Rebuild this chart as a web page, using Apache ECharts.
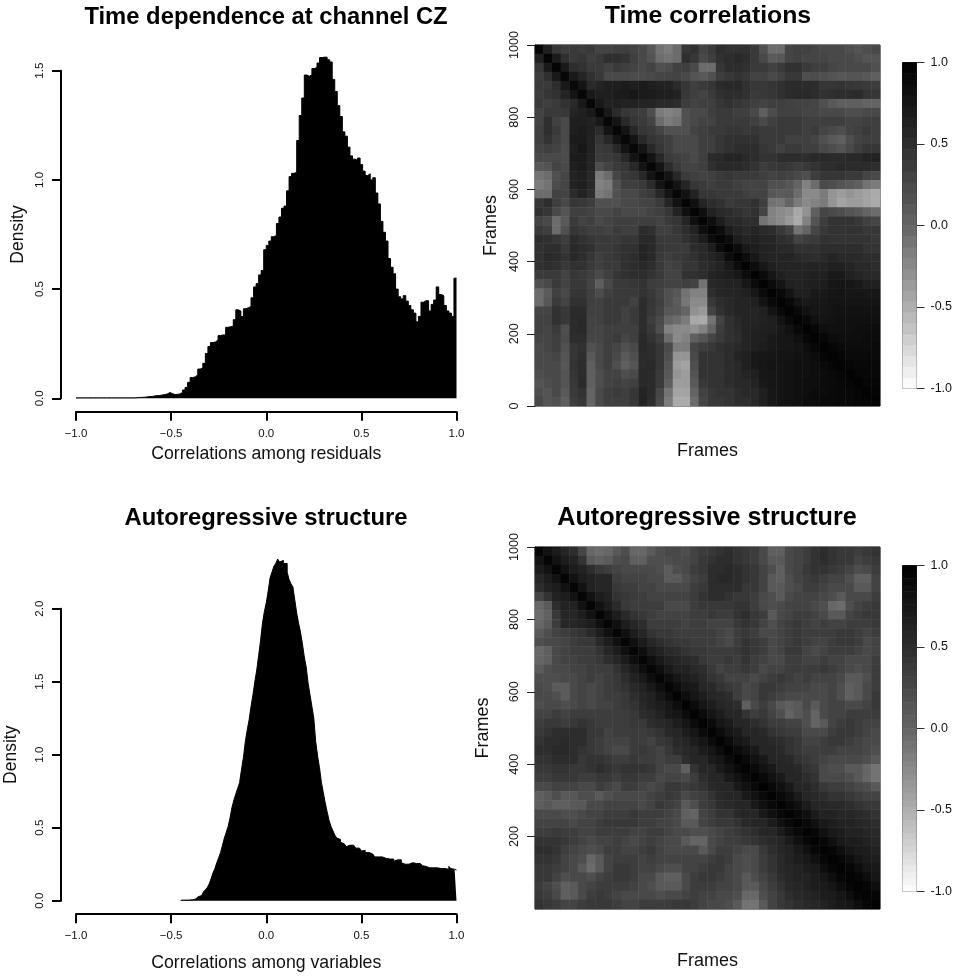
<!DOCTYPE html>
<html><head><meta charset="utf-8">
<style>html,body{margin:0;padding:0;background:#fff}#c{width:956px;height:976px}</style>
<script src="https://cdn.jsdelivr.net/npm/echarts@6/dist/echarts.min.js"></script>
</head><body><div id="c"></div>
<script>
const titles = ["Time dependence at channel CZ","Time correlations","Autoregressive structure","Autoregressive structure"];
const xNames = ["Correlations among residuals","Correlations among variables"];
const residStart = -1, residWidth = 2/150;
const residDensity = [.002,.002,.002,.002,.002,.002,.002,.002,.002,.002,.002,.002,.002,.002,.002,.002,.002,.002,.002,.002,.002,.002,.002,
.003,.004,.004,.005,.006,.008,.008,.011,.012,.013,.015,.017,.02,.026,.022,.017,.018,.02,.027,.038,.05,.073,.095,.098,.107,.134,.14,.16,.205,.237,.255,.258,.267,.287,.29,.29,.325,.328,.33,.36,.405,.40,.374,.41,.415,.42,.46,.51,.525,.565,.585,.68,.70,.72,.74,.745,.80,.83,.87,.88,.95,1.015,1.03,1.035,1.18,1.295,1.375,1.48,1.475,1.48,1.51,1.515,1.535,1.56,1.562,1.562,1.55,1.54,1.46,1.405,1.34,1.29,1.22,1.2,1.15,1.11,1.095,1.09,1.10,1.07,1.04,1.02,1.028,1.0,1.01,.94,.89,.81,.76,.72,.64,.60,.57,.50,.465,.455,.47,.445,.425,.405,.39,.35,.375,.44,.447,.447,.40,.43,.45,.51,.475,.47,.425,.40,.39,.375,.55];
const varStart = -0.45, varWidth = 0.01;
const varDensity = [.003,.004,.004,.004,.005,.006,.008,.012,.018,.026,.035,.047,.06,.075,.09,.115,.15,.19,.22,.26,.295,.33,.38,.43,.47,.51,.57,.64,.69,.73,.77,.81,.90,.98,1.09,1.17,1.24,1.33,1.41,1.50,1.58,1.68,1.78,1.90,1.98,2.04,2.12,2.21,2.25,2.29,2.31,2.34,2.32,2.33,2.31,2.31,2.25,2.20,2.17,2.15,2.06,1.97,1.90,1.84,1.76,1.67,1.60,1.49,1.41,1.33,1.25,1.09,.99,.91,.81,.74,.67,.61,.55,.51,.48,.45,.43,.42,.40,.39,.38,.37,.38,.385,.38,.37,.36,.36,.35,.34,.345,.33,.33,.32,.32,.315,.30,.30,.30,.30,.295,.29,.28,.285,.28,.285,.27,.28,.27,.28,.26,.25,.24,.25,.25,.26,.25,.255,.25,.255,.245,.24,.235,.23,.225,.23,.225,.23,.225,.225,.22,.225,.22,.23,.215,.235,.22,.215,.21];

// Correlation x100, lower-left triangle, one row per band from the top of the picture
const timeRows = [
[95],
[65,95],
[42,70,95],
[35,48,72,92],
[38,38,50,72,92],
[35,42,46,60,78,92],
[38,34,38,46,55,72,92],
[30,38,38,40,60,65,72,92],
[30,48,32,25,66,66,62,72,92],
[34,48,38,25,66,70,64,52,78,92],
[34,45,34,25,70,70,62,42,56,78,92],
[30,34,30,22,66,74,62,38,42,56,78,92],
[25,25,25,22,70,70,60,35,38,42,56,78,92],
[12,15,30,25,66,70,60,20,30,38,42,56,78,92],
[-10,-5,18,28,62,66,55,-15,-5,28,38,42,56,78,92],
[-15,-10,22,28,62,66,55,-20,-15,18,34,34,38,52,78,92],
[-5,-5,32,30,52,62,50,-15,-10,18,25,25,34,38,56,78,92],
[42,48,34,25,42,40,35,18,18,18,25,25,30,30,38,60,80,95],
[46,42,25,15,34,34,30,25,25,30,25,25,25,30,34,42,62,82,95],
[30,25,-5,10,38,30,34,25,30,34,34,34,34,34,30,38,42,60,82,95],
[38,34,-5,18,42,38,34,34,30,38,34,34,52,48,34,34,42,50,62,84,95],
[50,46,42,35,52,46,42,38,38,38,42,42,55,55,38,38,38,46,55,68,87,95],
[46,50,50,40,56,50,46,38,38,42,46,46,60,55,42,38,38,38,50,55,68,87,97],
[46,55,50,45,56,50,42,34,38,42,46,50,60,55,38,34,38,42,46,55,60,68,87,97],
[46,50,46,40,46,46,38,34,38,38,46,50,55,50,38,30,34,42,42,50,55,60,72,87,97],
[38,38,38,30,42,38,34,25,34,42,46,50,50,45,38,30,30,46,46,50,60,64,68,74,87,97],
[18,25,38,30,40,40,30,5,25,38,38,42,45,35,34,30,30,34,30,-10,55,58,62,62,74,88,97],
[-5,8,32,25,42,42,34,22,34,38,38,38,45,40,30,18,12,-10,-20,-20,50,58,60,60,64,76,88,97],
[-5,12,38,30,46,46,34,32,38,38,38,32,50,42,34,18,8,-12,-25,-25,40,50,55,60,60,64,78,90,97],
[28,28,46,40,52,52,32,32,38,38,32,38,50,40,30,12,10,0,-30,-35,30,46,55,60,60,60,64,78,90,97],
[32,32,46,40,52,55,30,32,38,38,32,38,50,35,25,0,-5,-15,-45,-47,-10,30,46,55,60,60,62,66,78,90,97],
[32,28,38,20,52,55,30,28,34,34,34,34,50,40,20,-20,-25,-25,-30,-20,0,35,46,52,60,62,64,66,72,80,90,97],
[28,28,34,22,50,50,28,28,34,38,28,34,55,45,35,-5,-25,-20,5,15,28,38,46,50,60,64,66,72,74,76,82,92,97],
[25,28,34,18,42,46,18,25,34,28,18,25,55,50,42,25,-15,-15,28,35,40,46,50,55,60,64,68,72,74,76,78,84,92,97],
[25,25,28,15,42,48,10,25,34,25,10,20,52,50,42,20,-32,-32,25,45,45,45,50,60,64,72,74,76,78,78,80,82,87,93,97],
[25,25,25,12,45,50,5,25,34,20,5,15,52,55,42,15,-37,-42,20,45,45,45,50,55,64,72,76,78,78,80,82,82,84,89,93,97],
[20,25,25,15,42,50,5,20,30,30,20,25,55,52,38,10,-32,-37,15,45,45,45,50,55,60,64,74,76,78,80,82,82,84,87,89,93,97],
[15,20,25,15,40,52,5,20,30,34,30,34,55,52,38,5,-37,-37,10,40,45,45,50,55,55,60,72,76,78,80,82,84,84,87,89,91,93,97],
[20,15,25,10,38,45,0,25,34,38,34,42,60,52,28,-10,-42,-42,0,32,40,45,45,50,55,55,64,74,78,80,82,84,87,87,89,91,91,93,97],
[25,15,18,5,35,42,0,25,34,34,34,42,62,50,25,-15,-47,-47,-5,28,40,40,45,50,50,55,64,74,78,80,82,87,87,89,89,91,91,93,95,98]
];
const arRows = [
[95],
[80,95],
[70,80,95],
[58,68,80,95],
[50,62,68,80,95],
[28,45,62,68,80,95],
[-2,8,50,62,62,80,95],
[-5,3,40,58,58,68,80,95],
[-2,8,35,58,58,62,68,82,95],
[10,20,30,35,40,45,55,68,82,95],
[20,25,25,30,35,40,40,55,68,82,95],
[-2,5,25,30,35,35,35,45,58,68,82,95],
[-2,5,25,30,30,35,35,40,50,58,70,84,95],
[8,20,25,25,30,30,35,35,35,45,58,70,84,95],
[20,20,20,25,25,30,35,30,35,40,50,62,72,84,95],
[25,20,8,8,25,30,25,30,35,40,45,55,62,72,84,95],
[25,25,20,8,25,30,25,30,35,35,40,50,58,62,74,86,97],
[20,25,25,20,25,30,25,30,30,35,40,45,55,62,68,74,86,97],
[30,30,35,30,35,35,35,35,35,35,35,40,50,55,62,72,76,88,97],
[35,40,40,35,40,45,40,35,35,35,35,40,40,50,55,58,68,76,88,97],
[40,45,50,50,50,50,40,40,30,35,35,35,35,40,45,55,58,68,76,88,97],
[45,50,50,55,50,50,40,35,30,30,30,35,35,30,40,45,55,58,68,76,88,97],
[50,50,55,55,50,45,40,35,30,25,25,35,40,35,30,40,50,55,58,70,76,88,97],
[45,45,50,50,50,40,45,45,40,35,35,40,35,35,30,35,35,50,58,58,70,76,88,97],
[40,40,45,45,40,40,45,50,45,40,45,45,45,40,30,25,25,5,45,58,58,70,80,90,97],
[35,35,40,40,40,35,35,40,40,35,40,40,35,35,25,30,30,25,35,50,58,58,72,80,90,97],
[25,25,30,30,30,25,25,35,30,25,35,35,30,25,30,40,40,35,40,45,55,58,58,72,80,90,97],
[5,10,20,10,10,20,20,10,20,25,25,25,25,30,35,40,35,25,30,35,45,55,58,58,72,80,90,97],
[5,10,5,5,10,10,25,25,30,30,30,30,25,30,40,35,30,10,20,35,40,50,55,58,58,72,82,90,97],
[25,25,25,20,20,25,30,30,35,35,35,40,35,35,35,30,25,5,0,30,35,45,45,55,58,58,72,82,90,97],
[30,30,30,30,25,30,30,35,40,40,40,40,35,35,30,30,25,10,10,30,35,40,40,45,55,58,58,70,82,90,97],
[35,35,40,35,35,30,30,35,35,35,35,30,30,35,35,30,25,25,20,20,25,30,35,40,45,50,58,58,70,82,90,97],
[45,45,45,40,35,30,25,30,30,35,30,25,30,35,30,25,25,10,0,0,25,30,35,35,40,45,50,55,58,70,82,92,97],
[50,50,45,35,30,25,20,25,35,35,30,30,35,40,30,25,25,25,25,10,25,35,35,30,25,25,40,50,58,62,72,82,92,97],
[45,45,40,30,25,20,-2,10,30,35,35,35,30,35,30,30,30,30,30,30,35,40,35,25,20,25,35,45,55,62,68,72,82,92,97],
[40,40,35,30,25,10,-5,10,30,40,40,35,30,30,25,20,20,30,30,35,40,40,30,25,20,25,35,45,55,58,62,68,72,84,92,97],
[40,40,30,20,25,25,20,30,35,40,40,35,25,25,10,5,5,25,35,40,40,35,30,25,10,20,30,40,50,58,62,62,68,74,84,93,97],
[35,30,20,5,10,25,30,35,35,35,35,30,25,20,10,10,10,25,35,35,35,30,30,25,10,10,25,35,45,55,58,62,68,70,76,85,93,97],
[40,35,25,5,10,25,35,40,35,30,25,25,25,25,20,25,25,30,35,30,30,25,25,20,-2,-2,20,30,40,50,55,58,62,68,70,76,85,93,97],
[45,40,35,30,30,35,40,40,40,35,30,30,35,35,35,35,40,40,35,30,25,25,20,10,-10,-10,10,30,40,45,50,55,58,62,68,72,76,85,93,98]
];
const scaleLevelsTop = [-97,-90,-83,-77,-70,-63,-57,-50,-43,-37,-30,-23,-17,-10,-3,3,10,17,23,30,37,43,50,57,63,70,77,83,90,97];
const scaleLevelsBottom = [-98,-94,-90,-86,-82,-78,-74,-70,-66,-62,-58,-54,-50,-46,-42,-38,-34,-30,-26,-22,-18,-14,-10,-6,-2,2,6,10,14,18,22,26,30,34,38,42,46,50,54,58,62,66,70,74,78,82,86,90,94,98];
const grayStops = ['#ffffff','#afafaf','#646464','#2d2d2d','#000000'];

const FONT = 'Liberation Sans';
const hGrids = [{left:76,width:380.5,top:70.7,height:327.6},{left:76,width:380.5,top:608.7,height:292}];
const mGrids = [{left:535,width:345,top:45,height:361},{left:535,width:345,top:547,height:362}];
const sGrids = [{left:902.5,width:14,top:62.5,height:326},{left:902.5,width:14,top:565.5,height:326}];
const grids=[], xAxes=[], yAxes=[], series=[];
const fmtH = v => v.toFixed(1).replace('-','\u2212');

function addHist(i, start, width, vals, yMax, nameLeftGap, nameBottomGap){
  const g = grids.length; grids.push(Object.assign({outerBoundsMode:'none'},hGrids[i]));
  xAxes.push({type:'value',gridIndex:g,min:-1,max:1,interval:.5,offset:13.5,position:'bottom',
    axisLine:{show:true,onZero:false,lineStyle:{color:'#000',width:2}},
    axisTick:{show:true,length:9,lineStyle:{color:'#000',width:2}},splitLine:{show:false},
    axisLabel:{margin:16,fontFamily:FONT,fontSize:11.5,color:'#111',formatter:fmtH,showMinLabel:true,showMaxLabel:true},
    name:xNames[i],nameLocation:'middle',nameGap:nameBottomGap,nameTextStyle:{fontFamily:FONT,fontSize:17.7,color:'#111'}});
  yAxes.push({type:'value',gridIndex:g,min:0,max:yMax,interval:.5,offset:15,position:'left',
    axisLine:{show:true,onZero:false,lineStyle:{color:'#000',width:2}},
    axisTick:{show:true,length:9,lineStyle:{color:'#000',width:2}},splitLine:{show:false},
    axisLabel:{margin:15,rotate:90,fontFamily:FONT,fontSize:11.5,color:'#111',formatter:fmtH,showMinLabel:true,showMaxLabel:true},
    name:'Density',nameLocation:'middle',nameGap:nameLeftGap,nameTextStyle:{fontFamily:FONT,fontSize:17.5,color:'#111'}});
  const pts = vals.map((v,k)=>[start+k*width,v]);
  pts.push([start+vals.length*width,vals[vals.length-1]]);
  series.push({type:'line',xAxisIndex:xAxes.length-1,yAxisIndex:yAxes.length-1,data:pts,step:'end',clip:false,showSymbol:false,silent:true,
    lineStyle:{color:'#000',width:1},areaStyle:{color:'#000',opacity:1,origin:'start'},z:3});
}
function addMatrix(i, rows, ticks){
  const g = grids.length; grids.push(Object.assign({outerBoundsMode:'none',show:true,borderColor:'#222',borderWidth:1},mGrids[i]));
  const n = rows.length, cats = rows.map((_,k)=>k);
  const xi = xAxes.length, yi = yAxes.length;
  xAxes.push({type:'category',gridIndex:g,data:cats,show:true,axisLine:{show:false},axisTick:{show:false},axisLabel:{show:false},splitLine:{show:false},
    name:'Frames',nameLocation:'middle',nameGap:i?43:36,nameTextStyle:{fontFamily:FONT,fontSize:18,color:'#111'}});
  yAxes.push({type:'value',gridIndex:g,min:0,max:1000,position:'left',
    axisLine:{show:true,onZero:false,lineStyle:{color:'#222',width:1}},
    axisTick:{show:true,length:8,lineStyle:{color:'#222'},customValues:ticks},splitLine:{show:false},
    axisLabel:{margin:14,rotate:90,fontFamily:FONT,fontSize:12.6,color:'#111',customValues:ticks,formatter:v=>String(v),showMinLabel:true,showMaxLabel:true},
    name:'Frames',nameLocation:'middle',nameGap:i?43:35,nameTextStyle:{fontFamily:FONT,fontSize:18,color:'#111'}});
  yAxes.push({type:'category',gridIndex:g,data:cats,show:false});
  const cells=[];
  for(let r=0;r<n;r++) for(let c=0;c<n;c++){
    const v = c<=r ? rows[r][c] : rows[c][r];
    cells.push([c,n-1-r,v]);
  }
  series.push({type:'heatmap',xAxisIndex:xi,yAxisIndex:yi+1,data:cells,silent:true,progressive:0,animation:false,itemStyle:{borderWidth:0},z:2});
  return series.length-1;
}
function addScale(i, levels){
  const g = grids.length; grids.push(Object.assign({outerBoundsMode:'none',show:true,borderColor:'#333',borderWidth:1},sGrids[i]));
  const xi = xAxes.length, yi = yAxes.length;
  xAxes.push({type:'category',gridIndex:g,data:['s'],show:false});
  yAxes.push({type:'value',gridIndex:g,min:-1,max:1,interval:.5,position:'right',
    axisLine:{show:true,onZero:false,lineStyle:{color:'#333',width:1}},
    axisTick:{show:true,length:8,lineStyle:{color:'#333'}},splitLine:{show:false},
    axisLabel:{margin:14,fontFamily:FONT,fontSize:12.5,color:'#111',formatter:v=>v.toFixed(1),showMinLabel:true,showMaxLabel:true}});
  yAxes.push({type:'category',gridIndex:g,data:levels,show:false});
  series.push({type:'heatmap',xAxisIndex:xi,yAxisIndex:yi+1,data:levels.map((v,k)=>[0,k,v]),silent:true,animation:false,z:2});
  return series.length-1;
}

addHist(0,residStart,residWidth,residDensity,1.5,34,33);
const m1 = addMatrix(0,timeRows,[0,200,400,600,800,1000]);
const s1 = addScale(0,scaleLevelsTop);
addHist(1,varStart,varWidth,varDensity,2,41,40);
const m2 = addMatrix(1,arRows,[200,400,600,800,1000]);
const s2 = addScale(1,scaleLevelsBottom);

const titleAt = [[266,5,23.8],[708,4,24.8],[266,506,23.8],[707,506,25.2]];
const chart = echarts.init(document.getElementById('c'),null,{renderer:'canvas'});
chart.setOption({
  animation:false,backgroundColor:'#fff',
  title:titles.map((t,i)=>({text:t,left:titleAt[i][0],top:titleAt[i][1],textAlign:'center',padding:0,
    textStyle:{fontFamily:FONT,fontWeight:'bold',fontSize:titleAt[i][2],color:'#000'}})),
  grid:grids,xAxis:xAxes,yAxis:yAxes,series,
  visualMap:[{show:false,type:'continuous',seriesIndex:[m1,s1,m2,s2],dimension:2,min:-100,max:100,inRange:{color:grayStops}}]
});
</script></body></html>
